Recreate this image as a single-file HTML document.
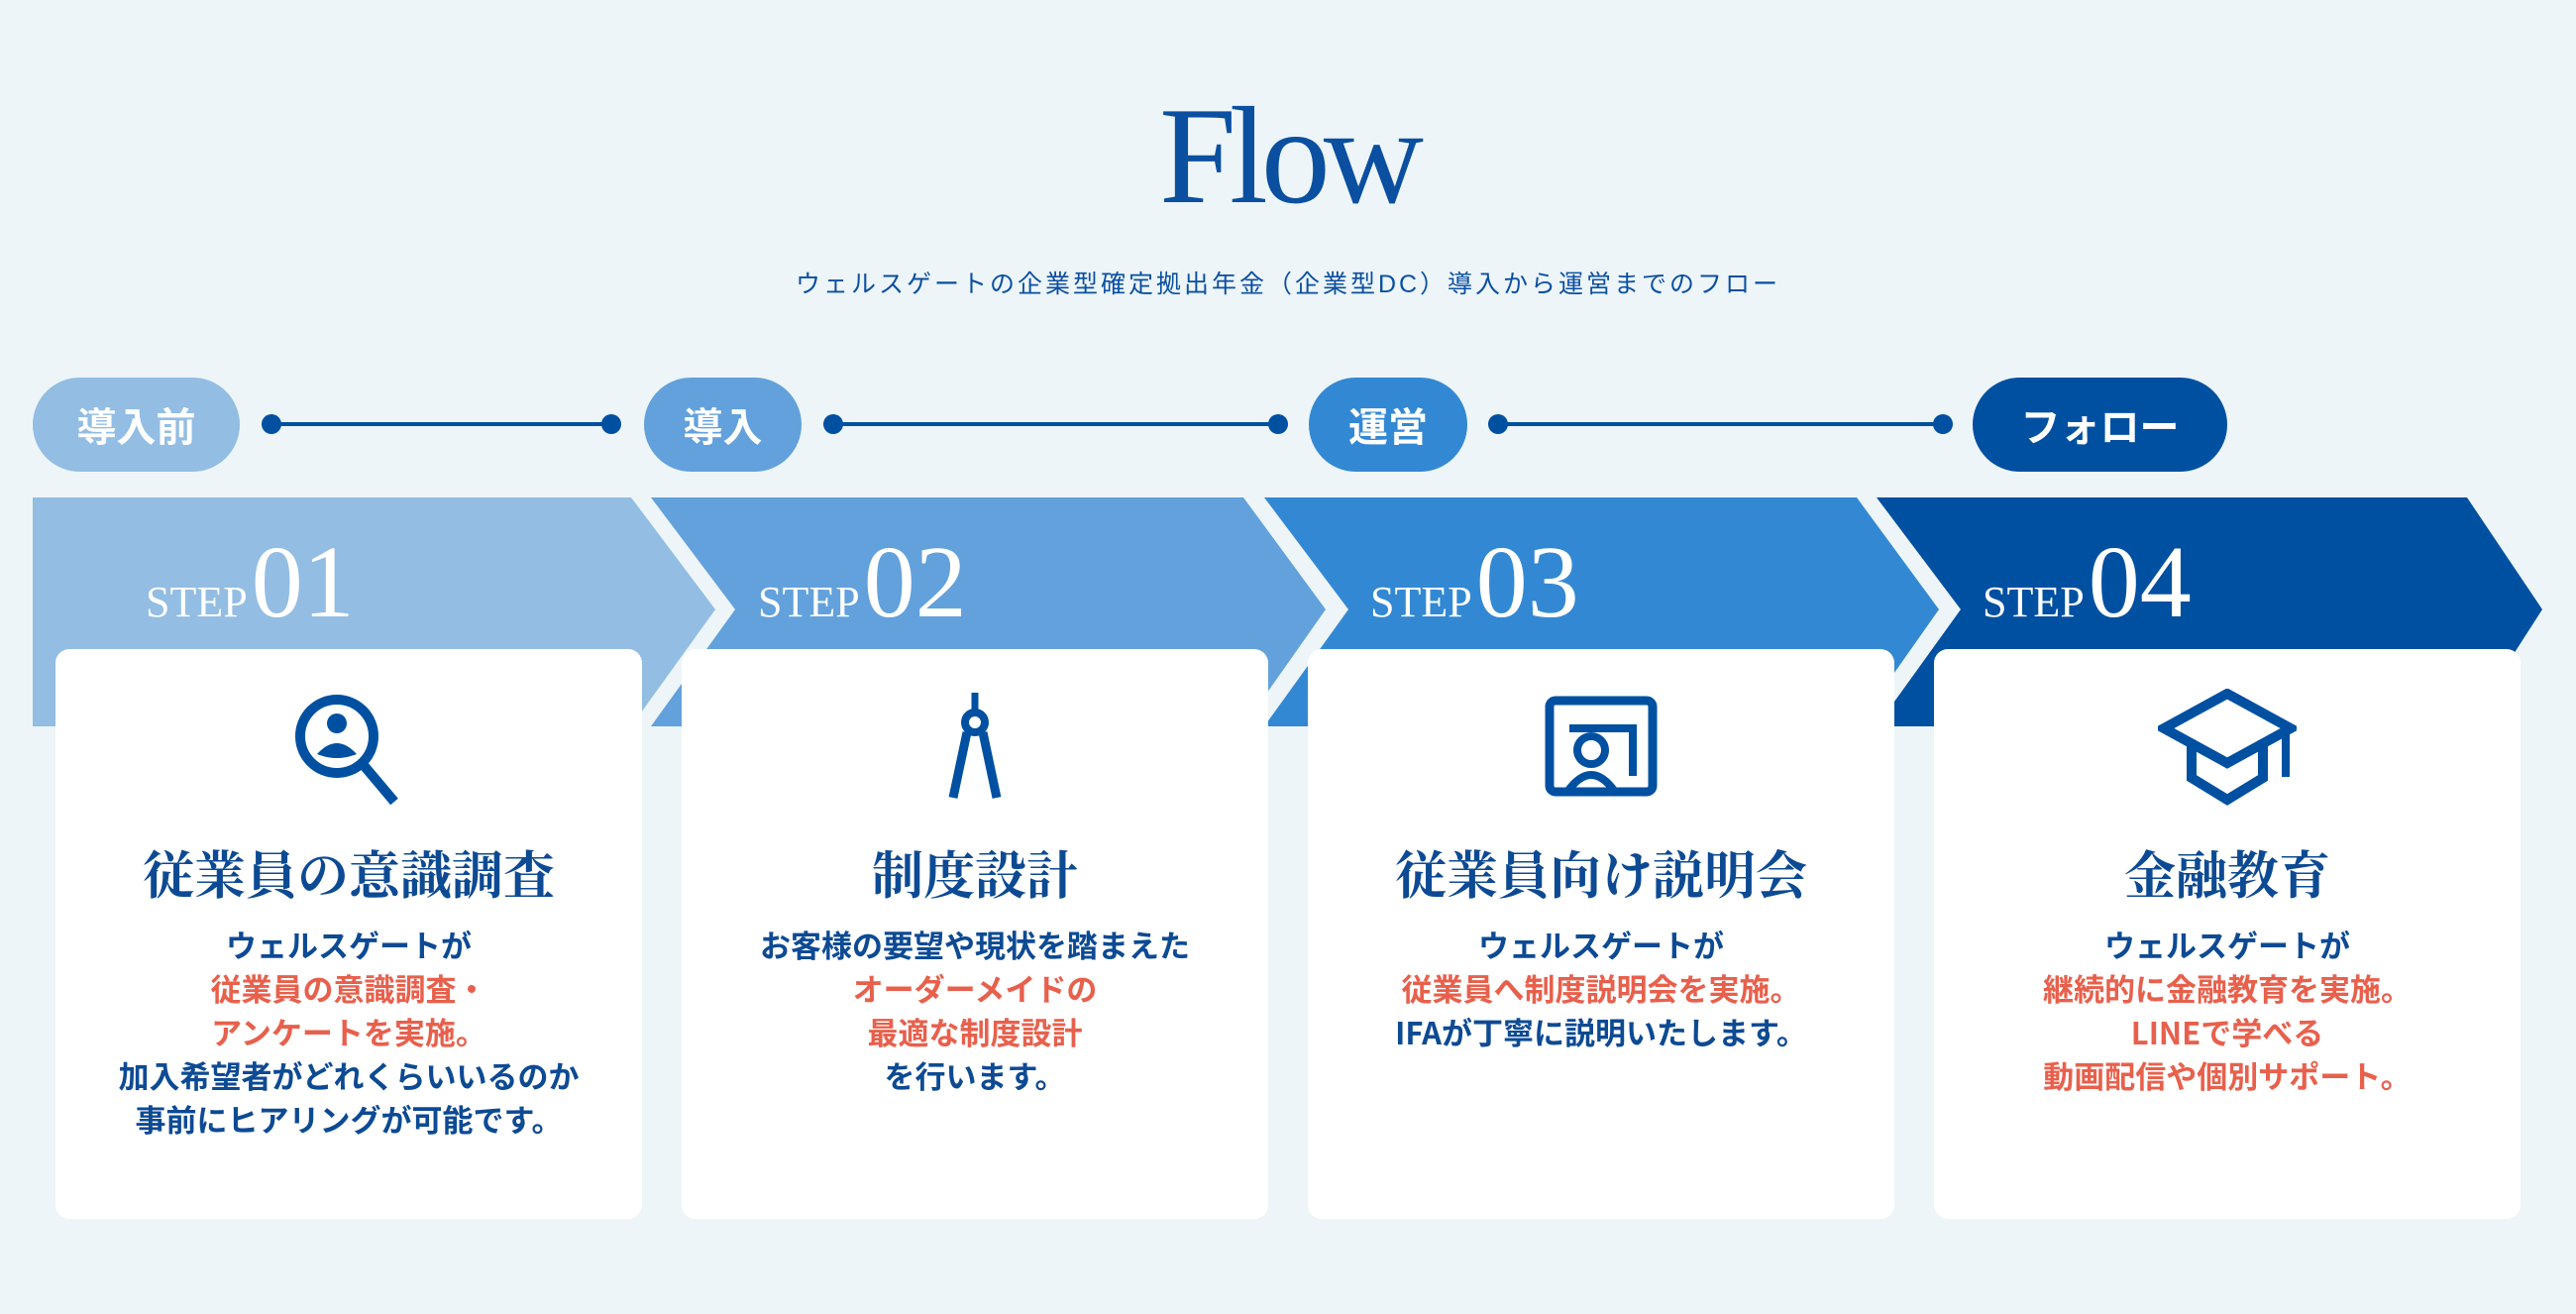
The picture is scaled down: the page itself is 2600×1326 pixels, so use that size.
<!DOCTYPE html>
<html><head><meta charset="utf-8"><style>
*{margin:0;padding:0;box-sizing:border-box}
body{width:2600px;height:1326px;background:#edf5f9;position:relative;overflow:hidden;font-family:"Liberation Sans","Noto Sans CJK JP",sans-serif}
.abs{position:absolute}
.title{left:0;width:2600px;top:78px;text-align:center;font-family:"Liberation Serif",serif;font-size:140px;line-height:160px;color:#0a4fa0;letter-spacing:-7px}
.sub{left:0;width:2600px;top:268px;text-align:center;font-size:25px;line-height:38px;color:#0a4fa0;letter-spacing:3px}
.pill{top:381px;height:95px;border-radius:48px;color:#fff;font-weight:bold;font-size:40px;line-height:95px;text-align:center;font-family:"Noto Sans CJK JP",sans-serif}
.step{top:536px;color:#fff;font-family:"Liberation Serif",serif;white-space:nowrap}
.step .s{font-size:44px}
.step .n{font-size:104px;line-height:104px;display:inline-block;margin-left:4px}
.card{top:655px;width:592px;height:575px;background:#fff;border-radius:14px;text-align:center}
.card svg{position:absolute;left:236px;top:40px}
.card h3{position:absolute;left:0;right:0;top:194px;font-family:"Noto Serif CJK JP","Noto Serif CJK SC",serif;font-weight:bold;font-size:52px;line-height:62px;color:#0d4a94}
.card p{position:absolute;left:0;right:0;top:276px;font-family:"Noto Sans CJK JP",sans-serif;font-weight:bold;font-size:31px;line-height:44px;color:#0d4a94}
.r{color:#e8604c}
</style></head><body>
<div class="abs title">Flow</div>
<div class="abs sub">ウェルスゲートの企業型確定拠出年金（企業型DC）導入から運営までのフロー</div>

<svg class="abs" style="left:0;top:0" width="2600" height="760">
 <g stroke="#0050a2" stroke-width="4"><line x1="274" y1="428" x2="617" y2="428"/><line x1="841" y1="428" x2="1290" y2="428"/><line x1="1512" y1="428" x2="1961" y2="428"/></g>
 <g fill="#0050a2"><circle cx="274" cy="428" r="10"/><circle cx="617" cy="428" r="10"/><circle cx="841" cy="428" r="10"/><circle cx="1290" cy="428" r="10"/><circle cx="1512" cy="428" r="10"/><circle cx="1961" cy="428" r="10"/></g>
 <polygon fill="#93bde3" points="33,502 637,502 722,615 637,733 33,733"/>
 <polygon fill="#62a1dc" points="657,502 1255,502 1338,615 1255,733 657,733 742,615"/>
 <polygon fill="#3388d4" points="1276,502 1874,502 1957,615 1874,733 1276,733 1361,615"/>
 <polygon fill="#0050a2" points="1894,502 2490,502 2566,615 2490,733 1894,733 1979,615"/>
</svg>

<div class="abs pill" style="left:33px;width:209px;background:#93bde3">導入前</div>
<div class="abs pill" style="left:650px;width:159px;background:#62a1dc">導入</div>
<div class="abs pill" style="left:1321px;width:160px;background:#3388d4">運営</div>
<div class="abs pill" style="left:1991px;width:257px;background:#0050a2">フォロー</div>

<div class="abs step" style="left:147px"><span class="s">STEP</span><span class="n">01</span></div>
<div class="abs step" style="left:765px"><span class="s">STEP</span><span class="n">02</span></div>
<div class="abs step" style="left:1383px"><span class="s">STEP</span><span class="n">03</span></div>
<div class="abs step" style="left:2001px"><span class="s">STEP</span><span class="n">04</span></div>

<div class="abs card" style="left:56px">
 <svg width="120" height="120" viewBox="0 0 120 120"><circle cx="48" cy="48" r="37" fill="none" stroke="#0050a2" stroke-width="10"/><circle cx="48" cy="35" r="10" fill="#0050a2"/><path d="M28 66 Q48 44 68 66 Q48 74 28 66Z" fill="#0050a2"/><line x1="74" y1="76" x2="106" y2="114" stroke="#0050a2" stroke-width="10"/></svg>
 <h3>従業員の意識調査</h3>
 <p>ウェルスゲートが<br><span class="r">従業員の意識調査・<br>アンケートを実施。</span><br>加入希望者がどれくらいいるのか<br>事前にヒアリングが可能です。</p>
</div>
<div class="abs card" style="left:688px">
 <svg width="120" height="120" viewBox="0 0 120 120"><line x1="60" y1="4" x2="60" y2="22" stroke="#0050a2" stroke-width="7"/><circle cx="60" cy="34" r="10" fill="none" stroke="#0050a2" stroke-width="8"/><path d="M52 44 L38 110 M68 44 L82 110" stroke="#0050a2" stroke-width="9" fill="none"/></svg>
 <h3>制度設計</h3>
 <p>お客様の要望や現状を踏まえた<br><span class="r">オーダーメイドの<br>最適な制度設計</span><br>を行います。</p>
</div>
<div class="abs card" style="left:1320px">
 <svg width="120" height="120" viewBox="0 0 120 120"><rect x="8" y="12" width="104" height="92" rx="6" fill="none" stroke="#0050a2" stroke-width="9"/><path d="M28 40 H92 V88" fill="none" stroke="#0050a2" stroke-width="8"/><circle cx="50" cy="62" r="14" fill="none" stroke="#0050a2" stroke-width="8"/><path d="M26 104 Q50 70 74 104" fill="none" stroke="#0050a2" stroke-width="8"/></svg>
 <h3>従業員向け説明会</h3>
 <p>ウェルスゲートが<br><span class="r">従業員へ制度説明会を実施。</span><br>IFAが丁寧に説明いたします。</p>
</div>
<div class="abs card" style="left:1952px">
 <svg width="140" height="120" viewBox="-5 -5 140 120" style="left:226px;top:40px"><path d="M65 0 L129 35 L65 70 L1 35Z" fill="none" stroke="#0050a2" stroke-width="10" stroke-linejoin="miter"/><path d="M29 47 V85 L65 107 L101 85 V47" fill="none" stroke="#0050a2" stroke-width="10"/><line x1="124" y1="35" x2="124" y2="84" stroke="#0050a2" stroke-width="8"/></svg>
 <h3>金融教育</h3>
 <p>ウェルスゲートが<br><span class="r">継続的に金融教育を実施。<br>LINEで学べる<br>動画配信や個別サポート。</span></p>
</div>
</body></html>
